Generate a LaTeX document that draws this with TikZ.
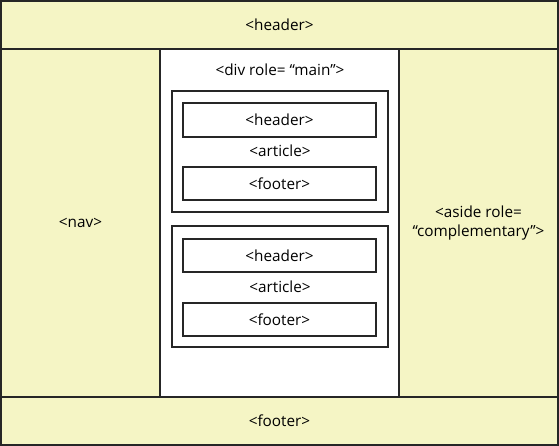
\documentclass[tikz,border=0pt]{standalone}
\usepackage{fontspec}
\setmainfont{Open Sans}
\definecolor{pale}{RGB}{245,245,197}
\begin{document}
\begin{tikzpicture}[x=1pt,y=-1pt,
  region/.style={draw=black!85,line width=2pt,fill=pale,inner sep=0pt,font=\fontsize{15.3}{19.5}\selectfont,align=center},
  box/.style={draw=black!85,line width=2pt,inner sep=0pt,font=\fontsize{15.3}{17}\selectfont},
  lbl/.style={inner sep=0pt,font=\fontsize{15.3}{17}\selectfont}]
\useasboundingbox (0,0) rectangle (559,446);
\node[region,minimum width=159pt,minimum height=348pt] (nav) at (80.5,223) {<nav>};
\node[region,fill=white,minimum width=239pt,minimum height=348pt] (main) at (279.5,223) {};
\node[region,minimum width=159pt,minimum height=348pt] (aside) at (478.5,223) {<aside role=\\“complementary”>};
\node[region,minimum width=557pt,minimum height=48pt] (hdr) at (279.5,25) {<header>};
\node[region,minimum width=557pt,minimum height=48pt] (ftr) at (279.5,421) {<footer>};
\node[lbl] (divlbl) at (280,70) {<div role= “main”>};
% article 1
\node[box,minimum width=216pt,minimum height=121pt] (art1) at (280,151.5) {};
\node[box,minimum width=193pt,minimum height=34pt] (h1) at (279.5,120) {<header>};
\node[lbl] (a1) at (280,151) {<article>};
\node[box,minimum width=193pt,minimum height=33pt] (f1) at (279.5,183.5) {<footer>};
% article 2
\node[box,minimum width=216pt,minimum height=121pt] (art2) at (280,286.5) {};
\node[box,minimum width=193pt,minimum height=33pt] (h2) at (279.5,255.5) {<header>};
\node[lbl] (a2) at (280,287) {<article>};
\node[box,minimum width=193pt,minimum height=33pt] (f2) at (279.5,319.5) {<footer>};
\end{tikzpicture}
\end{document}
